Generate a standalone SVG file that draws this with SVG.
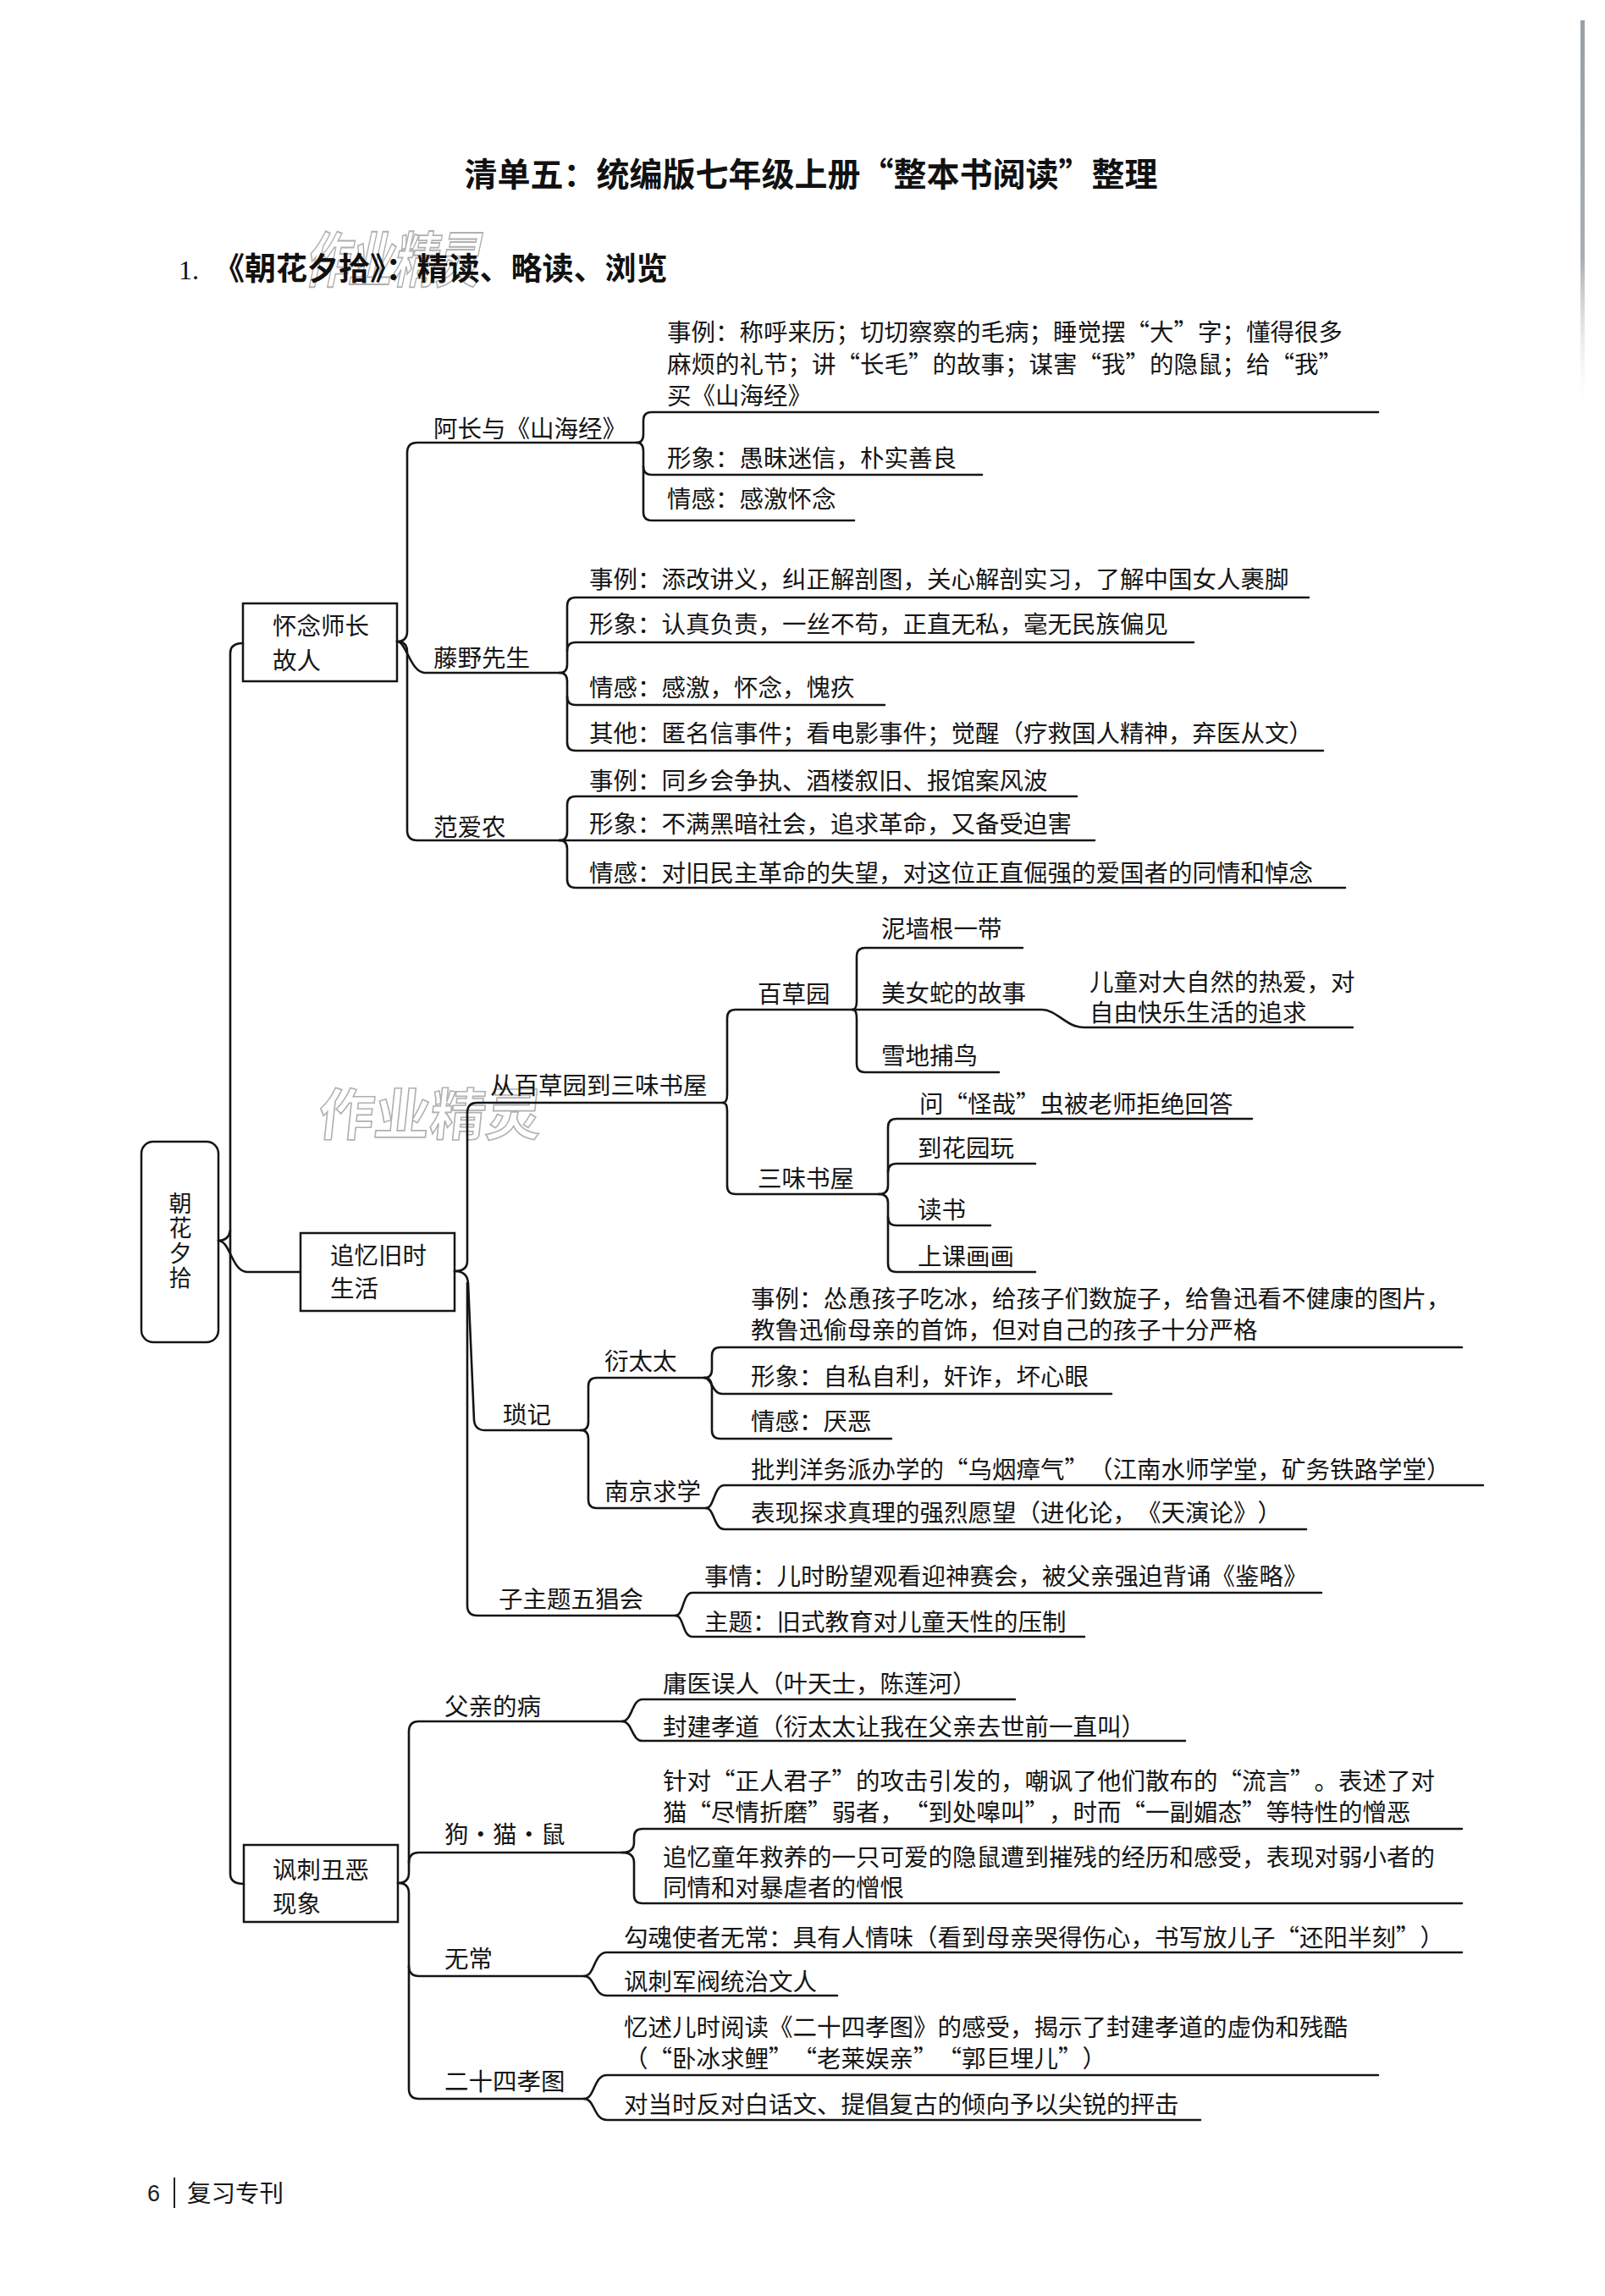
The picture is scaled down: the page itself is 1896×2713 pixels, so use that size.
<svg xmlns="http://www.w3.org/2000/svg" width="1896" height="2713" viewBox="0 0 1896 2713" lang="zh-CN" xml:lang="zh-CN">
<style>
.t{font-family:"Noto Sans CJK SC","Noto Sans",sans-serif;font-size:28.5px;fill:#151515;font-feature-settings:"fwid" 1;text-spacing-trim:space-all}
.rt{font-family:"Noto Sans CJK SC",sans-serif;font-size:27px;fill:#151515;writing-mode:vertical-rl;letter-spacing:2.5px}
.ttl{font-family:"Noto Sans CJK SC",sans-serif;font-size:39px;font-weight:bold;fill:#111;font-feature-settings:"fwid" 1;text-spacing-trim:space-all}
.hd{font-family:"Noto Sans CJK SC",sans-serif;font-size:37px;font-weight:bold;fill:#111}
.wm{font-family:"Noto Sans CJK SC",sans-serif;font-weight:bold;fill:none;stroke:#b0b0b0;stroke-width:1.6}
.ln{fill:none;stroke:#151515;stroke-width:2.6;stroke-linecap:round;stroke-linejoin:round}
.box{fill:none;stroke:#151515;stroke-width:2.5}
</style>
<defs>
<linearGradient id="edge" x1="0" y1="0" x2="0" y2="1">
<stop offset="0" stop-color="#98a0a8"/>
<stop offset="0.6" stop-color="#a8aeb4"/>
<stop offset="1" stop-color="#ffffff" stop-opacity="0"/>
</linearGradient>
</defs>
<rect width="1896" height="2713" fill="#ffffff"/>
<rect x="1867" y="24" width="5" height="470" fill="url(#edge)"/>

<g id="watermarks">
<text class="wm" font-size="60" transform="translate(359,333) skewX(-12) scale(0.86,1.18)">作业精灵</text>
<text class="wm" font-size="66" transform="translate(374,1341) skewX(-6)">作业精灵</text>
</g>

<g id="title">
<text class="ttl" x="958" y="220" text-anchor="middle">清单五：统编版七年级上册“整本书阅读”整理</text>
</g>
<g id="heading">
<text x="211" y="330" font-family="Liberation Serif, serif" font-size="32" fill="#111">1.</text>
<text class="hd" x="252" y="331">《朝花夕拾》：精读、略读、浏览</text>
</g>

<g id="connectors">
<!-- trunk -->
<path class="ln" d="M287 760 Q272 760 272 772 L272 2214 Q272 2226 288 2226"/>
<path class="ln" d="M258 1466 Q270 1466 272 1454"/>
<path class="ln" d="M258 1466 C272 1466 274 1503 292 1503 L355 1503"/>
<!-- 怀念师长故人 -->
<path class="ln" d="M469 758 Q481 758 481 746 L481 535 Q481 523 493 523 L752 523"/>
<path class="ln" d="M469 758 C480 758 485 795 502 795 L661 795"/>
<path class="ln" d="M469 758 Q481 758 481 770 L481 981 Q481 993 493 993 L661 993"/>
<!-- 阿长 -->
<path class="ln" d="M752 523 Q760 523 760 513 L760 497 Q760 487 770 487 L1628 487"/>
<path class="ln" d="M752 523 Q760 523 760 533 L760 551 Q760 561 770 561 L1160 561"/>
<path class="ln" d="M760 551 L760 605 Q760 615 770 615 L1009 615"/>
<!-- 藤野 -->
<path class="ln" d="M661 795 Q670 795 670 785 L670 716 Q670 706 680 706 L1546 706"/>
<path class="ln" d="M670 769 Q670 759 680 759 L1410 759"/>
<path class="ln" d="M661 795 Q670 795 670 805 L670 823 Q670 833 680 833 L1045 833"/>
<path class="ln" d="M670 823 L670 877 Q670 887 680 887 L1563 887"/>
<!-- 范爱农 -->
<path class="ln" d="M661 993 Q670 993 670 983 L670 951 Q670 941 680 941 L1272 941"/>
<path class="ln" d="M661 993 L1293 993"/>
<path class="ln" d="M661 993 Q670 993 670 1003 L670 1039 Q670 1049 680 1049 L1589 1049"/>
<!-- 追忆旧时生活 -->
<path class="ln" d="M537 1502 Q552 1502 552 1490 L552 1315 Q552 1303 564 1303 L854 1303"/>
<path class="ln" d="M537 1502 Q552 1502 553 1516 L560 1678 Q561 1690 573 1690 L686 1690"/>
<path class="ln" d="M552 1516 L552 1897 Q552 1909 564 1909 L798 1909"/>
<!-- 从百草园到三味书屋 -->
<path class="ln" d="M854 1303 Q859 1303 859 1293 L859 1203 Q859 1193 869 1193 L1007 1193"/>
<path class="ln" d="M854 1303 Q859 1303 859 1313 L859 1401 Q859 1411 869 1411 L1038 1411"/>
<!-- 百草园 -->
<path class="ln" d="M1007 1193 Q1012 1193 1012 1183 L1012 1130 Q1012 1120 1022 1120 L1208 1120"/>
<path class="ln" d="M1007 1193 L1231 1193 C1248 1193 1260 1214 1280 1214 L1598 1214"/>
<path class="ln" d="M1007 1193 Q1012 1193 1012 1203 L1012 1257 Q1012 1267 1022 1267 L1180 1267"/>
<!-- 三味书屋 -->
<path class="ln" d="M1038 1411 Q1049 1411 1049 1401 L1049 1332 Q1049 1322 1059 1322 L1479 1322"/>
<path class="ln" d="M1049 1385 Q1049 1375 1059 1375 L1223 1375"/>
<path class="ln" d="M1038 1411 Q1049 1411 1049 1421 L1049 1438 Q1049 1448 1059 1448 L1170 1448"/>
<path class="ln" d="M1049 1438 L1049 1493 Q1049 1503 1059 1503 L1223 1503"/>
<!-- 琐记 -->
<path class="ln" d="M686 1690 Q695 1690 695 1680 L695 1638 Q695 1628 705 1628 L832 1628"/>
<path class="ln" d="M686 1690 Q695 1690 695 1700 L695 1772 Q695 1782 705 1782 L834 1782"/>
<!-- 衍太太 -->
<path class="ln" d="M832 1628 Q841 1628 841 1618 L841 1602 Q841 1592 851 1592 L1727 1592"/>
<path class="ln" d="M832 1628 C841 1628 841 1647 853 1647 L1313 1647"/>
<path class="ln" d="M832 1628 Q841 1628 841 1640 L841 1690 Q841 1700 851 1700 L1053 1700"/>
<!-- 南京求学 -->
<path class="ln" d="M834 1782 C844 1782 843 1755 856 1755 L1752 1755"/>
<path class="ln" d="M834 1782 C844 1782 843 1807 856 1807 L1543 1807"/>
<!-- 子主题五猖会 -->
<path class="ln" d="M798 1909 C808 1909 806 1882 818 1882 L1561 1882"/>
<path class="ln" d="M798 1909 C808 1909 806 1934 818 1934 L1281 1934"/>
<!-- 讽刺丑恶现象 -->
<path class="ln" d="M470 2225 Q483 2225 483 2213 L483 2046 Q483 2034 495 2034 L735 2034"/>
<path class="ln" d="M483 2201 Q483 2189 495 2189 L735 2189"/>
<path class="ln" d="M470 2225 Q483 2225 483 2237 L483 2468 Q483 2480 495 2480 L690 2480"/>
<path class="ln" d="M483 2323 Q483 2335 495 2335 L690 2335"/>
<!-- 父亲的病 -->
<path class="ln" d="M735 2034 C747 2034 746 2008 759 2008 L1199 2008"/>
<path class="ln" d="M735 2034 C747 2034 746 2057 759 2057 L1400 2057"/>
<!-- 狗猫鼠 -->
<path class="ln" d="M735 2189 Q749 2189 749 2177 L749 2171 Q749 2161 759 2161 L1727 2161"/>
<path class="ln" d="M735 2189 Q749 2189 749 2201 L749 2239 Q749 2249 759 2249 L1727 2249"/>
<!-- 无常 -->
<path class="ln" d="M690 2335 C703 2335 701 2307 717 2307 L1727 2307"/>
<path class="ln" d="M690 2335 C703 2335 701 2358 717 2358 L989 2358"/>
<!-- 二十四孝图 -->
<path class="ln" d="M690 2480 C703 2480 701 2452 717 2452 L1628 2452"/>
<path class="ln" d="M690 2480 C703 2480 701 2505 717 2505 L1418 2505"/>
</g>

<g id="root">
<rect class="box" x="167" y="1349" width="91" height="237" rx="14"/>
<text class="rt" x="213" y="1408">朝花夕拾</text>
</g>

<g id="n-huainian">
<rect class="box" x="287" y="713" width="182" height="92"/>
<text class="t" x="322" y="750">怀念师长</text>
<text class="t" x="322" y="791">故人</text>
</g>
<g id="n-zhuiyi">
<rect class="box" x="355" y="1457" width="182" height="92"/>
<text class="t" x="390" y="1494">追忆旧时</text>
<text class="t" x="390" y="1533">生活</text>
</g>
<g id="n-fengci">
<rect class="box" x="288" y="2180" width="182" height="91"/>
<text class="t" x="322" y="2220">讽刺丑恶</text>
<text class="t" x="322" y="2260">现象</text>
</g>

<g id="n-achang"><text class="t" x="512" y="517">阿长与《山海经》</text></g>
<g id="n-achang-1">
<text class="t" x="788" y="403">事例：称呼来历；切切察察的毛病；睡觉摆“大”字；懂得很多</text>
<text class="t" x="788" y="441">麻烦的礼节；讲“长毛”的故事；谋害“我”的隐鼠；给“我”</text>
<text class="t" x="788" y="478">买《山海经》</text>
</g>
<g id="n-achang-2"><text class="t" x="788" y="552">形象：愚昧迷信，朴实善良</text></g>
<g id="n-achang-3"><text class="t" x="788" y="600">情感：感激怀念</text></g>

<g id="n-tengye"><text class="t" x="512" y="788">藤野先生</text></g>
<g id="n-tengye-1"><text class="t" x="696" y="695">事例：添改讲义，纠正解剖图，关心解剖实习，了解中国女人裹脚</text></g>
<g id="n-tengye-2"><text class="t" x="696" y="748">形象：认真负责，一丝不苟，正直无私，毫无民族偏见</text></g>
<g id="n-tengye-3"><text class="t" x="696" y="823">情感：感激，怀念，愧疚</text></g>
<g id="n-tengye-4"><text class="t" x="696" y="877">其他：匿名信事件；看电影事件；觉醒（疗救国人精神，弃医从文）</text></g>

<g id="n-fanainong"><text class="t" x="512" y="988">范爱农</text></g>
<g id="n-fan-1"><text class="t" x="696" y="933">事例：同乡会争执、酒楼叙旧、报馆案风波</text></g>
<g id="n-fan-2"><text class="t" x="696" y="984">形象：不满黑暗社会，追求革命，又备受迫害</text></g>
<g id="n-fan-3"><text class="t" x="696" y="1042">情感：对旧民主革命的失望，对这位正直倔强的爱国者的同情和悼念</text></g>

<g id="n-baicao-sanwei"><text class="t" x="579" y="1293">从百草园到三味书屋</text></g>
<g id="n-baicao"><text class="t" x="895" y="1185">百草园</text></g>
<g id="n-niqiang"><text class="t" x="1041" y="1108">泥墙根一带</text></g>
<g id="n-meinvshe"><text class="t" x="1041" y="1184">美女蛇的故事</text></g>
<g id="n-ertong">
<text class="t" x="1287" y="1171">儿童对大自然的热爱，对</text>
<text class="t" x="1287" y="1207">自由快乐生活的追求</text>
</g>
<g id="n-xuedi"><text class="t" x="1041" y="1258">雪地捕鸟</text></g>
<g id="n-sanwei"><text class="t" x="895" y="1403">三味书屋</text></g>
<g id="n-guaizai"><text class="t" x="1086" y="1315">问“怪哉”虫被老师拒绝回答</text></g>
<g id="n-huayuan"><text class="t" x="1084" y="1367">到花园玩</text></g>
<g id="n-dushu"><text class="t" x="1084" y="1440">读书</text></g>
<g id="n-huahua"><text class="t" x="1084" y="1495">上课画画</text></g>

<g id="n-suoji"><text class="t" x="594" y="1682">琐记</text></g>
<g id="n-yantaitai"><text class="t" x="714" y="1619">衍太太</text></g>
<g id="n-yan-1">
<text class="t" x="887" y="1545">事例：怂恿孩子吃冰，给孩子们数旋子，给鲁迅看不健康的图片，</text>
<text class="t" x="887" y="1582">教鲁迅偷母亲的首饰，但对自己的孩子十分严格</text>
</g>
<g id="n-yan-2"><text class="t" x="887" y="1637">形象：自私自利，奸诈，坏心眼</text></g>
<g id="n-yan-3"><text class="t" x="887" y="1690">情感：厌恶</text></g>
<g id="n-nanjing"><text class="t" x="714" y="1773">南京求学</text></g>
<g id="n-nj-1"><text class="t" x="887" y="1747">批判洋务派办学的“乌烟瘴气”（江南水师学堂，矿务铁路学堂）</text></g>
<g id="n-nj-2"><text class="t" x="887" y="1798">表现探求真理的强烈愿望（进化论，《天演论》）</text></g>

<g id="n-wuchang-hui"><text class="t" x="589" y="1900">子主题五猖会</text></g>
<g id="n-wc-1"><text class="t" x="832" y="1873">事情：儿时盼望观看迎神赛会，被父亲强迫背诵《鉴略》</text></g>
<g id="n-wc-2"><text class="t" x="832" y="1927">主题：旧式教育对儿童天性的压制</text></g>

<g id="n-fuqin"><text class="t" x="525" y="2027">父亲的病</text></g>
<g id="n-fq-1"><text class="t" x="783" y="2000">庸医误人（叶天士，陈莲河）</text></g>
<g id="n-fq-2"><text class="t" x="783" y="2051">封建孝道（衍太太让我在父亲去世前一直叫）</text></g>

<g id="n-gomaoshu"><text class="t" x="525" y="2178">狗·猫·鼠</text></g>
<g id="n-gms-1">
<text class="t" x="783" y="2115">针对“正人君子”的攻击引发的，嘲讽了他们散布的“流言”。表述了对</text>
<text class="t" x="783" y="2152">猫“尽情折磨”弱者，“到处嗥叫”，时而“一副媚态”等特性的憎恶</text>
</g>
<g id="n-gms-2">
<text class="t" x="783" y="2205">追忆童年救养的一只可爱的隐鼠遭到摧残的经历和感受，表现对弱小者的</text>
<text class="t" x="783" y="2241">同情和对暴虐者的憎恨</text>
</g>

<g id="n-wuchang"><text class="t" x="525" y="2325">无常</text></g>
<g id="n-wch-1"><text class="t" x="737" y="2300">勾魂使者无常：具有人情味（看到母亲哭得伤心，书写放儿子“还阳半刻”）</text></g>
<g id="n-wch-2"><text class="t" x="737" y="2352">讽刺军阀统治文人</text></g>

<g id="n-ershisi"><text class="t" x="525" y="2470">二十四孝图</text></g>
<g id="n-es-1">
<text class="t" x="737" y="2406">忆述儿时阅读《二十四孝图》的感受，揭示了封建孝道的虚伪和残酷</text>
<text class="t" x="737" y="2443">（“卧冰求鲤”“老莱娱亲”“郭巨埋儿”）</text>
</g>
<g id="n-es-2"><text class="t" x="737" y="2497">对当时反对白话文、提倡复古的倾向予以尖锐的抨击</text></g>

<g id="footer">
<text x="174" y="2601" font-family="Liberation Sans, sans-serif" font-size="27" fill="#222">6</text>
<line x1="206" y1="2573" x2="206" y2="2609" stroke="#222" stroke-width="2"/>
<text class="t" x="221" y="2602" font-size="28">复习专刊</text>
</g>
</svg>
